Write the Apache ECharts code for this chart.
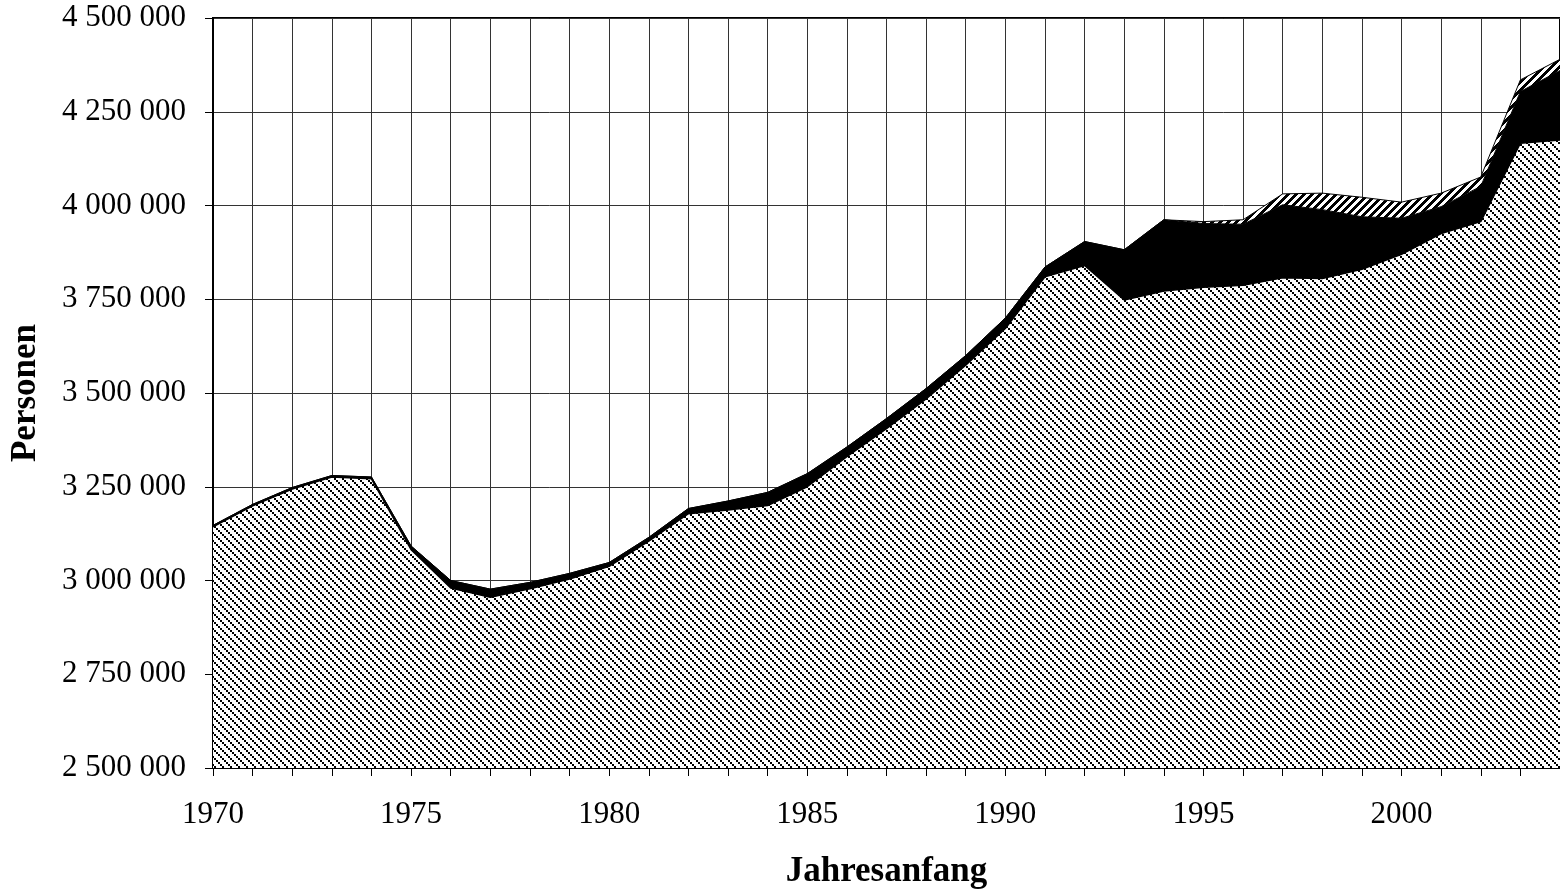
<!DOCTYPE html>
<html>
<head>
    <meta charset="utf-8">
    <title>Personen</title>
    <script src="https://cdn.jsdelivr.net/npm/echarts@6/dist/echarts.min.js"></script>
    <style>
        html, body { margin: 0; padding: 0; background: #fff; overflow: hidden; }
    </style>
</head>
<body>
    <div id="main" style="width: 1560px;height: 894px;"></div>
    <script type="text/javascript">
// Jahre (Jahresanfang)
var years = ['1970','1971','1972','1973','1974','1975','1976','1977','1978','1979',
             '1980','1981','1982','1983','1984','1985','1986','1987','1988','1989',
             '1990','1991','1992','1993','1994','1995','1996','1997','1998','1999',
             '2000','2001','2002','2003','2004'];

// unterste Fläche (schraffiert)
var baseValues = [3143000, 3199000, 3244000, 3276000, 3271000, 3082000, 2980000, 2955000, 2978000, 3004000,
                  3038000, 3105000, 3178000, 3188000, 3200000, 3250000, 3330000, 3405000, 3484000, 3574000,
                  3672000, 3810000, 3840000, 3748000, 3772000, 3782000, 3787000, 3807000, 3805000, 3830000,
                  3870000, 3925000, 3957000, 4166000, 4175000];

// mittlere Fläche (schwarz)
var blackValues = [4000, 4000, 4000, 4000, 5000, 10000, 20000, 22000, 17000, 15000,
                   10000, 10000, 14000, 24000, 35000, 35000, 26000, 27000, 28000, 26000,
                   28000, 26000, 64000, 134000, 190000, 170000, 163000, 195000, 184000, 140000,
                   96000, 72000, 94000, 138000, 185000];

// obere Fläche (schräg gestreift)
var topValues = [0, 0, 0, 0, 0, 0, 0, 0, 0, 0,
                 0, 0, 0, 0, 0, 0, 0, 0, 0, 0,
                 0, 0, 0, 0, 0, 5000, 12000, 29000, 44000, 52000,
                 43000, 36000, 25000, 31000, 30000];

var yMin = 2500000, yMax = 4500000, yStep = 250000;

// Schraffur-Muster
function hatchBack() {
    var c = document.createElement('canvas');
    c.width = 8; c.height = 8;
    var ctx = c.getContext('2d');
    ctx.fillStyle = '#fff';
    ctx.fillRect(0, 0, 8, 8);
    ctx.fillStyle = '#000';
    for (var i = 0; i < 8; i += 2) {
        ctx.fillRect(i, i, 2, 2);
    }
    return c;
}
function hatchForward() {
    var c = document.createElement('canvas');
    c.width = 8; c.height = 8;
    var ctx = c.getContext('2d');
    ctx.fillStyle = '#fff';
    ctx.fillRect(0, 0, 8, 8);
    ctx.fillStyle = '#000';
    for (var y = 0; y < 8; y++) {
        for (var x = 0; x < 8; x++) {
            if ((x + y) % 8 < 4) ctx.fillRect(x, y, 1, 1);
        }
    }
    return c;
}

function fmt(v) {
    return String(v).replace(/\B(?=(\d{3})+(?!\d))/g, ' ');
}

var myChart = echarts.init(document.getElementById('main'));
var font = 'Liberation Serif';

myChart.setOption({
    animation: false,
    backgroundColor: '#fff',
    grid: {
        left: 213,
        top: 18,
        width: 1360,
        height: 751,
        show: true,
        borderColor: '#000',
        borderWidth: 2,
        backgroundColor: 'transparent'
    },
    xAxis: {
        type: 'category',
        data: years,
        boundaryGap: false,
        name: 'Jahresanfang',
        nameLocation: 'middle',
        nameGap: 86,
        nameTextStyle: { fontFamily: font, fontWeight: 'bold', fontSize: 35, color: '#000' },
        axisLine: { lineStyle: { color: '#000', width: 2 } },
        axisTick: { show: true, length: 8, interval: 0, lineStyle: { color: '#000', width: 1 } },
        axisLabel: { interval: 4, margin: 31, fontFamily: font, fontSize: 31, color: '#000' },
        splitLine: { show: true, interval: 0, lineStyle: { color: '#333', width: 1 } }
    },
    yAxis: {
        type: 'value',
        min: yMin,
        max: yMax,
        interval: yStep,
        name: 'Personen',
        nameLocation: 'middle',
        nameGap: 170,
        nameTextStyle: { fontFamily: font, fontWeight: 'bold', fontSize: 35, color: '#000' },
        axisLine: { show: true, lineStyle: { color: '#000', width: 2 } },
        axisTick: { show: true, length: 8, lineStyle: { color: '#000', width: 1 } },
        axisLabel: { margin: 27, fontFamily: font, fontSize: 31, color: '#000', formatter: fmt },
        splitLine: { show: true, lineStyle: { color: '#333', width: 1 } }
    },
    series: [
        {
            name: 'base',
            type: 'line',
            stack: 'total',
            symbol: 'none',
            data: baseValues,
            lineStyle: { color: '#000', width: 1.5 },
            areaStyle: { color: { image: hatchBack(), repeat: 'repeat' }, opacity: 1 }
        },
        {
            name: 'black',
            type: 'line',
            stack: 'total',
            symbol: 'none',
            data: blackValues,
            lineStyle: { color: '#000', width: 1 },
            areaStyle: { color: '#000', opacity: 1 }
        },
        {
            name: 'top',
            type: 'line',
            stack: 'total',
            symbol: 'none',
            data: topValues,
            lineStyle: { color: '#000', width: 1 },
            areaStyle: { color: { image: hatchForward(), repeat: 'repeat' }, opacity: 1 }
        }
    ]
});
    </script>
</body>
</html>
